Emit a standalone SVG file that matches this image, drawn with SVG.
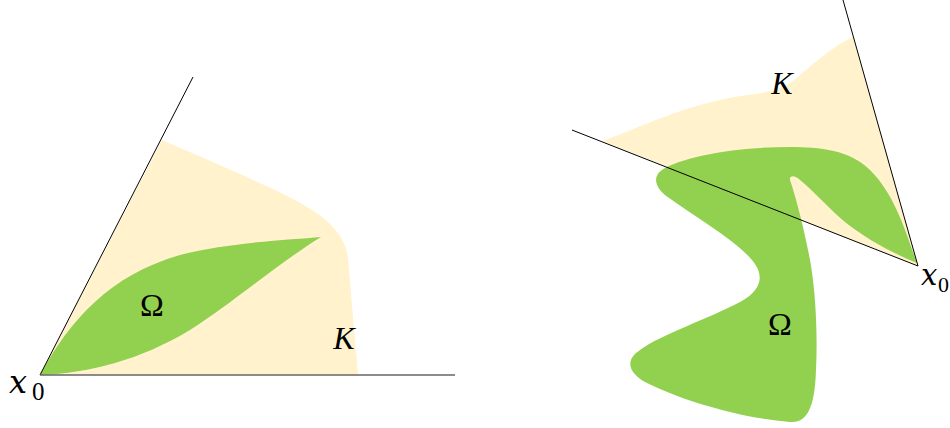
<svg xmlns="http://www.w3.org/2000/svg" width="950" height="428" viewBox="0 0 950 428">
<style>
.k{fill:#FFF2CC;stroke:none}
.om{fill:#92D050;stroke:none}
.ray{stroke:#000;stroke-width:1;fill:none}
.t{font-family:"Liberation Serif","DejaVu Serif",serif;fill:#000}
.it{font-style:italic}
.xv{font-family:"DejaVu Serif",serif;font-style:italic;fill:#000}
</style>
<rect width="950" height="428" fill="#fff"/>
<g id="left">
<path class="k" d="M40,375 L162,140 C235,172 305,200 328,222 C342,235 347,248 348,258 L358,375 Z"/>
<path class="om" d="M40,375 C70,320 110,275 180,255 C230,242 290,240 321,237 C280,262 230,305 190,330 C140,360 90,373 40,375 Z"/>
<line class="ray" x1="40" y1="375" x2="193" y2="77"/>
<line x1="40" y1="375" x2="455" y2="375" stroke="#666" stroke-width="1.5"/>
<text class="t" x="152" y="316" font-size="32" text-anchor="middle">Ω</text>
<text class="t it" x="344" y="349" font-size="32" text-anchor="middle">K</text>
<text class="xv" x="9" y="393" font-size="32">x</text>
<text class="t" x="32" y="400" font-size="25">0</text>
</g>
<g id="right">
<path class="k" d="M602,141 C640,128 680,106 740,96 C770,92 785,90 800,75 C820,58 840,42 853,37 L918,266 Z"/>
<path class="om" d="M917,263 C905,230 895,195 870,170 C850,150 820,147 790,147 C740,147 690,155 665,168 C650,176 655,190 672,200 C700,220 735,240 752,260 C765,275 762,290 740,302 C710,318 660,335 640,350 C625,360 628,372 645,382 C680,400 740,418 790,422 C810,424 815,400 816,370 C818,330 815,280 808,250 C802,220 795,195 790,180 C789,175 795,175 800,180 C815,192 830,210 845,222 C865,238 890,252 917,263 Z"/>
<line class="ray" x1="918" y1="266" x2="843" y2="0"/>
<line class="ray" x1="918" y1="266" x2="572" y2="130"/>
<text class="t it" x="782" y="94" font-size="32" text-anchor="middle">K</text>
<text class="t" x="780" y="335" font-size="32" text-anchor="middle">Ω</text>
<text class="xv" x="921" y="285" font-size="29">x</text>
<text class="t" x="938" y="292" font-size="22">0</text>
</g>
</svg>
